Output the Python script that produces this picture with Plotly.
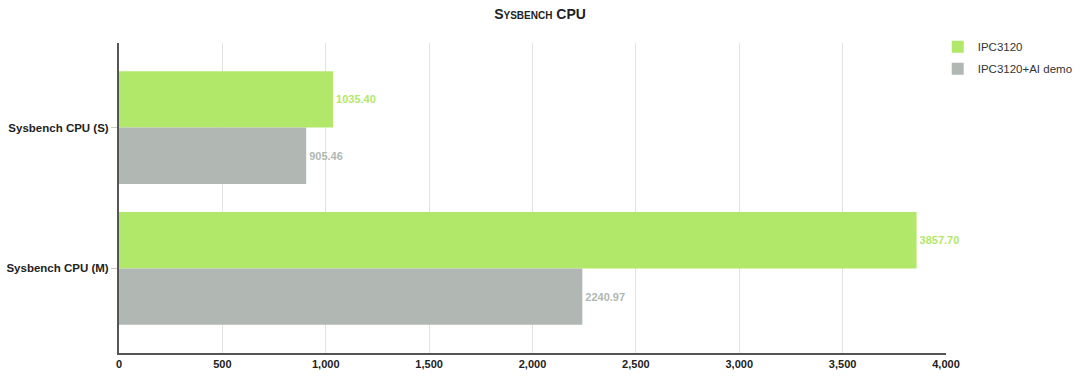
import plotly.graph_objects as go

categories = ["Sysbench CPU (S)", "Sysbench CPU (M)"]
series_names = ["IPC3120", "IPC3120+AI demo"]
ipc3120 = [1035.40, 3857.70]
ipc3120_ai = [905.46, 2240.97]
x_ticks = [0, 500, 1000, 1500, 2000, 2500, 3000, 3500, 4000]
x_tick_labels = ["0", "500", "1,000", "1,500", "2,000", "2,500", "3,000", "3,500", "4,000"]

colors = ["#b2e86a", "#b1b8b3"]
font_family = "Liberation Sans, Arial, sans-serif"

fig = go.Figure()
for name, vals, col in zip(series_names, [ipc3120, ipc3120_ai], colors):
    fig.add_trace(go.Bar(
        name=name, y=categories, x=vals, orientation="h",
        legendgroup=name,
        marker=dict(color=col, line=dict(width=0)),
        text=[f"{v:.2f}" for v in vals], textposition="outside",
        textfont=dict(color=col, size=11, family=font_family, weight="bold"),
        cliponaxis=False,
    ))

fig.update_layout(
    width=1080, height=381,
    barmode="group", bargap=0.2, bargroupgap=0,
    plot_bgcolor="white", paper_bgcolor="white",
    margin=dict(l=119, r=134, t=43, b=28, autoexpand=False),
    title=dict(text="<b>Sysbench CPU</b>", x=0.5, xanchor="center", y=0.962, yanchor="middle",
               font=dict(size=14, family=font_family, color="#222", variant="small-caps")),
    legend=dict(x=0.99, y=1.035, xanchor="left", yanchor="top", traceorder="grouped",
                tracegroupgap=3, itemwidth=30,
                font=dict(size=11.5, family=font_family, color="#333"),
                itemsizing="constant", bgcolor="rgba(0,0,0,0)"),
    showlegend=True,
)
fig.update_xaxes(range=[0, 4000], tickvals=x_ticks, ticktext=x_tick_labels,
                 showgrid=True, gridcolor="#e3e3e3", gridwidth=1,
                 showline=True, linecolor="#555", linewidth=2,
                 tickfont=dict(size=11, family=font_family, color="#222", weight="bold"),
                 ticks="", zeroline=False)
fig.update_yaxes(range=[1.6, -0.6], showline=True, linecolor="#555", linewidth=2,
                 ticks="outside", ticklen=6, tickcolor="#ccc",
                 tickfont=dict(size=11.5, family=font_family, color="#222", weight="bold"),
                 showgrid=False)

fig.write_html("out.html")
